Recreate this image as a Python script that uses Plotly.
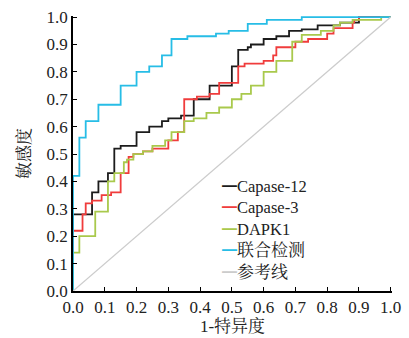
import plotly.graph_objects as go

# ROC step points (x = 1-specificity, y = sensitivity); drawn with 'hv' steps
cap12_fpr = [0, 0, 0.06, 0.08, 0.11, 0.13, 0.15, 0.20, 0.24, 0.28, 0.30, 0.34, 0.38, 0.43, 0.50, 0.52,
             0.55, 0.56, 0.60, 0.64, 0.68, 0.72, 0.77, 0.84, 0.90, 1.0]
cap12_tpr = [0, 0.28, 0.36, 0.40, 0.43, 0.52, 0.53, 0.58, 0.60, 0.62, 0.63, 0.64, 0.70, 0.75, 0.82, 0.88,
             0.89, 0.90, 0.92, 0.93, 0.95, 0.955, 0.97, 0.98, 1.0, 1.0]

cap3_fpr = [0, 0, 0.03, 0.04, 0.06, 0.09, 0.12, 0.15, 0.175, 0.19, 0.22, 0.25, 0.30, 0.33, 0.35, 0.39,
            0.43, 0.46, 0.52, 0.54, 0.60, 0.63, 0.64, 0.70, 0.74, 0.80, 0.82, 0.88, 0.885, 0.90, 1.0]
cap3_tpr = [0, 0.22, 0.28, 0.32, 0.33, 0.35, 0.36, 0.43, 0.49, 0.50, 0.51, 0.52, 0.55, 0.58, 0.70, 0.71,
            0.72, 0.76, 0.82, 0.83, 0.84, 0.86, 0.89, 0.91, 0.92, 0.94, 0.96, 0.98, 0.99, 1.0, 1.0]

dapk1_fpr = [0, 0, 0.02, 0.07, 0.11, 0.13, 0.16, 0.17, 0.19, 0.22, 0.25, 0.29, 0.31, 0.35, 0.38, 0.42,
             0.46, 0.50, 0.53, 0.56, 0.60, 0.64, 0.69, 0.72, 0.78, 0.82, 0.84, 0.88, 0.97, 1.0]
dapk1_tpr = [0, 0.14, 0.20, 0.29, 0.40, 0.43, 0.47, 0.48, 0.50, 0.51, 0.53, 0.55, 0.58, 0.62, 0.63, 0.65,
             0.67, 0.70, 0.72, 0.75, 0.80, 0.84, 0.91, 0.935, 0.95, 0.97, 0.98, 0.99, 1.0, 1.0]

combo_fpr = [0, 0, 0.02, 0.04, 0.08, 0.15, 0.20, 0.24, 0.28, 0.31, 0.36, 0.45, 0.49, 0.55, 0.61, 0.72, 1.0]
combo_tpr = [0, 0.42, 0.56, 0.62, 0.68, 0.75, 0.80, 0.82, 0.86, 0.92, 0.93, 0.94, 0.95, 0.975, 0.99, 1.0, 1.0]

ref_x = [0, 1]
ref_y = [0, 1]

names = ["Capase-12", "Capase-3", "DAPK1", "联合检测", "参考线"]
colors = ["#1c1c1c", "#f03c3c", "#a9c94c", "#27bde6", "#cccccc"]
tick_vals = [0.0, 0.1, 0.2, 0.3, 0.4, 0.5, 0.6, 0.7, 0.8, 0.9, 1.0]
tick_text = ["0.0", "0.1", "0.2", "0.3", "0.4", "0.5", "0.6", "0.7", "0.8", "0.9", "1.0"]

FONT = "Liberation Serif, Noto Serif CJK SC, Noto Sans CJK SC, serif"

series = [
    (cap12_fpr, cap12_tpr),
    (cap3_fpr, cap3_tpr),
    (dapk1_fpr, dapk1_tpr),
    (combo_fpr, combo_tpr),
]

fig = go.Figure()
for (xs, ys), nm, col in zip(series, names, colors):
    fig.add_trace(go.Scatter(x=xs, y=ys, name=nm, mode="lines", line_shape="hv",
                             line=dict(color=col, width=1.8), showlegend=False))
fig.add_trace(go.Scatter(x=ref_x, y=ref_y, name=names[4], mode="lines",
                         line=dict(color=colors[4], width=1.3), showlegend=False))

# legend drawn as a text block (short coloured line + label, like the original)
legend_lines = []
for nm, col in zip(names, colors):
    label = nm if nm.isascii() else '<span style="font-size:17px">%s</span>' % nm
    legend_lines.append(
        '<span style="color:%s;font-family:Noto Sans CJK SC;font-size:15px">━</span>%s' % (col, label))
fig.add_annotation(
    xref="paper", yref="paper", x=0.462, y=0.43, xanchor="left", yanchor="top",
    text="<br>".join(legend_lines), showarrow=False, align="left",
    font=dict(family=FONT, size=16.5, color="#222"),
)

axis_common = dict(
    showgrid=False, zeroline=False, showline=True, linecolor="black", linewidth=1.6,
    ticks="inside", ticklen=4, tickwidth=1.3, tickcolor="black",
    tickmode="array", tickvals=tick_vals, ticktext=tick_text,
    tickfont=dict(family=FONT, size=17, color="#222"),
    mirror=False, automargin=False, layer="above traces",
)

fig.update_layout(
    width=409, height=338,
    margin=dict(l=73, r=17, t=16, b=47),
    paper_bgcolor="white", plot_bgcolor="white",
    font=dict(family=FONT, size=16, color="#222"),
    showlegend=False,
    xaxis=dict(range=[0, 1.004], title=dict(text="1-特异度", standoff=2,
               font=dict(family=FONT, size=17)), **axis_common),
    yaxis=dict(range=[0, 1.004], title=dict(text="敏感度", standoff=12,
               font=dict(family=FONT, size=17)), **axis_common),
)

fig.write_html("out.html", config={"displayModeBar": False},
               post_script="document.body.style.margin='0px';")
